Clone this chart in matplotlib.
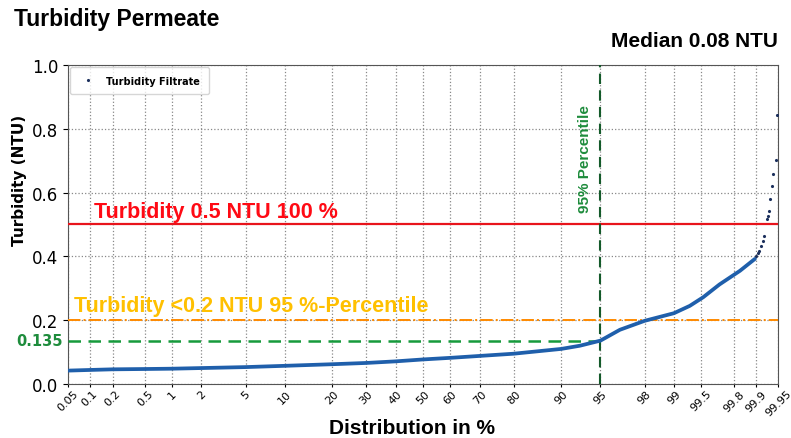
import numpy as np
import matplotlib
matplotlib.use("Agg")
import matplotlib.pyplot as plt
from statistics import NormalDist

# Verteilung der Trübung im Filtrat (Perzentil in %, Trübung in NTU)
pct = [0.05, 0.1, 0.2, 0.5, 1, 2, 5, 10, 20, 30, 40, 50, 60, 70, 80, 90,
       92.7, 95, 96.6, 98, 99, 99.33, 99.53, 99.7, 99.835, 99.895]
ntu = [0.042, 0.044, 0.046, 0.047, 0.048, 0.050, 0.053, 0.057, 0.062, 0.066,
       0.071, 0.077, 0.082, 0.088, 0.095, 0.110, 0.120, 0.136, 0.170, 0.198,
       0.222, 0.245, 0.272, 0.312, 0.355, 0.392]

# einzelne Ausreißer am oberen Ende
tail_pct = [99.900, 99.905, 99.909, 99.914, 99.918, 99.922, 99.928, 99.930,
            99.933, 99.936, 99.939, 99.942, 99.946, 99.948]
tail_ntu = [0.400, 0.410, 0.418, 0.434, 0.449, 0.465, 0.517, 0.526,
            0.543, 0.580, 0.622, 0.658, 0.702, 0.844]

ticks = [0.05, 0.1, 0.2, 0.5, 1, 2, 5, 10, 20, 30, 40, 50, 60, 70, 80, 90,
         95, 98, 99, 99.5, 99.8, 99.9, 99.95]
tick_labels = ["0.05", "0.1", "0.2", "0.5", "1", "2", "5", "10", "20", "30",
               "40", "50", "60", "70", "80", "90", "95", "98", "99", "99.5",
               "99.8", "99.9", "99.95"]

limit_100 = 0.5
limit_95 = 0.2
p95_value = 0.135
median = 0.08

nd = NormalDist()
_ppf = np.vectorize(nd.inv_cdf, otypes=[float])
_cdf = np.vectorize(nd.cdf, otypes=[float])


def to_z(p):
    p = np.clip(np.asarray(p, dtype=float), 1e-9, 100 - 1e-9)
    return _ppf(p / 100.0)


def to_pct(z):
    return _cdf(np.asarray(z, dtype=float)) * 100.0


fig = plt.figure(figsize=(7.91, 4.39), dpi=100)
ax = fig.add_axes([0.086, 0.123, 0.8976, 0.7267])
ax.set_xscale("function", functions=(to_z, to_pct))
ax.set_xlim(0.05, 99.95)
ax.set_ylim(0, 1.0)

# Messkurve
ax.plot(pct, ntu, "-", color="#1f5fab", lw=2.7, solid_capstyle="round",
        solid_joinstyle="round", zorder=4)
ax.plot(tail_pct, tail_ntu, ".", color="#1b2f5c", ms=2.5,
        label="Turbidity Filtrate", zorder=5)

# Grenzwerte
ax.axhline(limit_100, color="#e8141c", lw=1.6, zorder=3)
ax.axhline(limit_95, color="#ff8a00", lw=1.4, ls="-.", zorder=3)
ax.plot([0.05, 95], [p95_value, p95_value], color="#169a3c", lw=1.8,
        ls=(0, (5, 3)), zorder=3)
ax.axvline(95, color="#145a2a", lw=1.5, ls=(0, (5, 3)), zorder=3)

ax.text(0.115, 0.523, "Turbidity 0.5 NTU 100 %", color="#ff0a14",
        fontsize=15.5, fontweight="bold", va="baseline", ha="left",
        family="Liberation Sans")
ax.text(0.06, 0.229, "Turbidity <0.2 NTU 95 %-Percentile",
        color="#ffc000", fontsize=15.5, fontweight="bold", va="baseline",
        ha="left", family="Liberation Sans")
ax.text(93.3, 0.708, "95% Percentile", color="#1e8c3c", fontsize=11,
        fontweight="bold", rotation=90, ha="center", va="center",
        family="Liberation Sans")
ax.text(-0.008, p95_value, "0.135", transform=ax.get_yaxis_transform(),
        color="#1e8c3c", fontsize=10.5, fontweight="bold", ha="right",
        va="center")

ax.set_xticks(ticks)
ax.set_xticklabels(tick_labels, rotation=45, ha="center", fontsize=8)
ax.tick_params(axis="x", length=2.5, pad=0.5)
ax.set_yticks(np.arange(0, 1.01, 0.2))
ax.set_yticklabels([f"{v:.1f}" for v in np.arange(0, 1.01, 0.2)], fontsize=12)
ax.minorticks_off()
ax.grid(True, ls=":", color="#888888", lw=0.9)
for s in ax.spines.values():
    s.set_color("#555555")

ax.set_xlabel("Distribution in %", fontsize=15, fontweight="bold",
              family="Liberation Sans", va="baseline")
ax.xaxis.set_label_coords(0.4845, -0.1536)
ax.set_ylabel("Turbidity (NTU)", fontsize=11, fontweight="bold")
ax.yaxis.set_label_coords(-0.058, 0.64)

leg = ax.legend(loc="upper left", fontsize=7, borderaxespad=0.2,
                borderpad=0.9, handlelength=2.0, handletextpad=0.8)
for t in leg.get_texts():
    t.set_fontweight("bold")

fig.text(0.018, 0.955, "Turbidity Permeate", fontsize=16.5, fontweight="bold",
         va="center", ha="left", family="Liberation Sans")
fig.text(0.984, 0.905, f"Median {median} NTU", fontsize=15,
         fontweight="bold", va="center", ha="right", family="Liberation Sans")

fig.savefig("out.png", dpi=100)
